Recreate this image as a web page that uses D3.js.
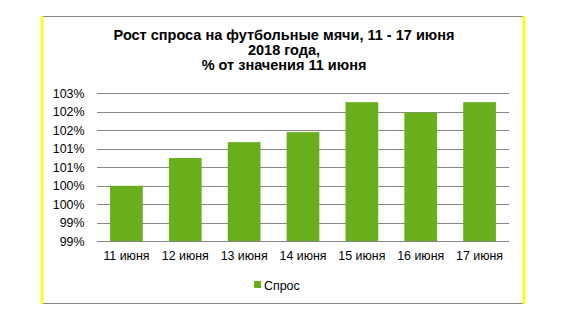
<!DOCTYPE html>
<html>
<head>
<meta charset="utf-8">
<script src="https://cdn.jsdelivr.net/npm/d3@7"></script>
<style>
  html, body { margin: 0; padding: 0; background: #fff; }
  svg { display: block; font-family: "Liberation Sans", Arial, sans-serif; }
</style>
</head>
<body>
<svg id="chart" width="568" height="320"></svg>
<script>
const titleLines = ["Рост спроса на футбольные мячи, 11 - 17 июня", "2018 года,", "% от значения 11 июня"];
const categories = ["11 июня", "12 июня", "13 июня", "14 июня", "15 июня", "16 июня", "17 июня"];
const values = [100.0, 100.75, 101.18, 101.45, 102.26, 101.98, 102.26];
const yTicks = [98.5, 99, 99.5, 100, 100.5, 101, 101.5, 102, 102.5];
const seriesName = "Спрос";

const svg = d3.select("#chart");
const barColor = "#69AF1C";
const gridColor = "#868686";

// frame
svg.append("rect").attr("x", 42.5).attr("y", 16.5).attr("width", 481).attr("height", 287)
  .attr("fill", "#fff").attr("stroke", gridColor).attr("stroke-width", 1);
svg.append("line").attr("x1", 42).attr("x2", 42).attr("y1", 16).attr("y2", 304)
  .attr("stroke", "#FFFF00").attr("stroke-width", 2.5);
svg.append("line").attr("x1", 524).attr("x2", 524).attr("y1", 16).attr("y2", 304)
  .attr("stroke", "#FFFF00").attr("stroke-width", 2.5);

// title
const title = svg.append("text").attr("text-anchor", "middle")
  .attr("font-weight", "bold").attr("font-size", 14.5).attr("fill", "#000");
titleLines.forEach((t, i) => {
  title.append("tspan").attr("x", 284).attr("y", 39.5 + i * 15.4).text(t);
});

const plot = { left: 97, right: 509, top: 93.3, bottom: 241.3 };

const x = d3.scaleBand().domain(categories).range([plot.left, plot.right])
  .paddingInner(0.444).paddingOuter(0.222);
const y = d3.scaleLinear().domain([98.5, 102.5]).range([plot.bottom, plot.top]);

// gridlines
svg.append("g").selectAll("line").data(yTicks).join("line")
  .attr("x1", plot.left).attr("x2", plot.right)
  .attr("y1", d => Math.round(y(d)) + 0.5).attr("y2", d => Math.round(y(d)) + 0.5)
  .attr("stroke", gridColor).attr("stroke-width", 1);

// y axis labels
const yAxis = d3.axisLeft(y).tickValues(yTicks).tickSize(0).tickPadding(0)
  .tickFormat(d => Math.round(d) + "%");
const gy = svg.append("g").attr("transform", `translate(${plot.left - 12.5},0)`).call(yAxis);
gy.select(".domain").remove();
gy.selectAll("text").attr("font-size", 12.4).attr("fill", "#000")
  .attr("font-family", "Liberation Sans, Arial, sans-serif");

// bars
svg.append("g").selectAll("rect").data(values).join("rect")
  .attr("x", (d, i) => x(categories[i]))
  .attr("width", x.bandwidth())
  .attr("y", d => y(d))
  .attr("height", d => y(98.5) - y(d))
  .attr("fill", barColor);

// x axis
const xAxis = d3.axisBottom(x).tickSize(0).tickPadding(0);
const gx = svg.append("g").attr("transform", `translate(0,${Math.round(plot.bottom)})`).call(xAxis);
gx.select(".domain").remove();
gx.selectAll("text").attr("font-size", 12.4).attr("fill", "#000").attr("dy", "1.5em")
  .attr("font-family", "Liberation Sans, Arial, sans-serif");
svg.append("line").attr("x1", plot.left).attr("x2", plot.right)
  .attr("y1", Math.round(plot.bottom) + 0.5).attr("y2", Math.round(plot.bottom) + 0.5)
  .attr("stroke", gridColor).attr("stroke-width", 1);

// legend
const lg = svg.append("g");
lg.append("rect").attr("x", 254).attr("y", 281).attr("width", 7).attr("height", 7).attr("fill", barColor);
lg.append("text").attr("x", 264).attr("y", 290).attr("font-size", 12.4).attr("fill", "#000").text(seriesName);
</script>
</body>
</html>
